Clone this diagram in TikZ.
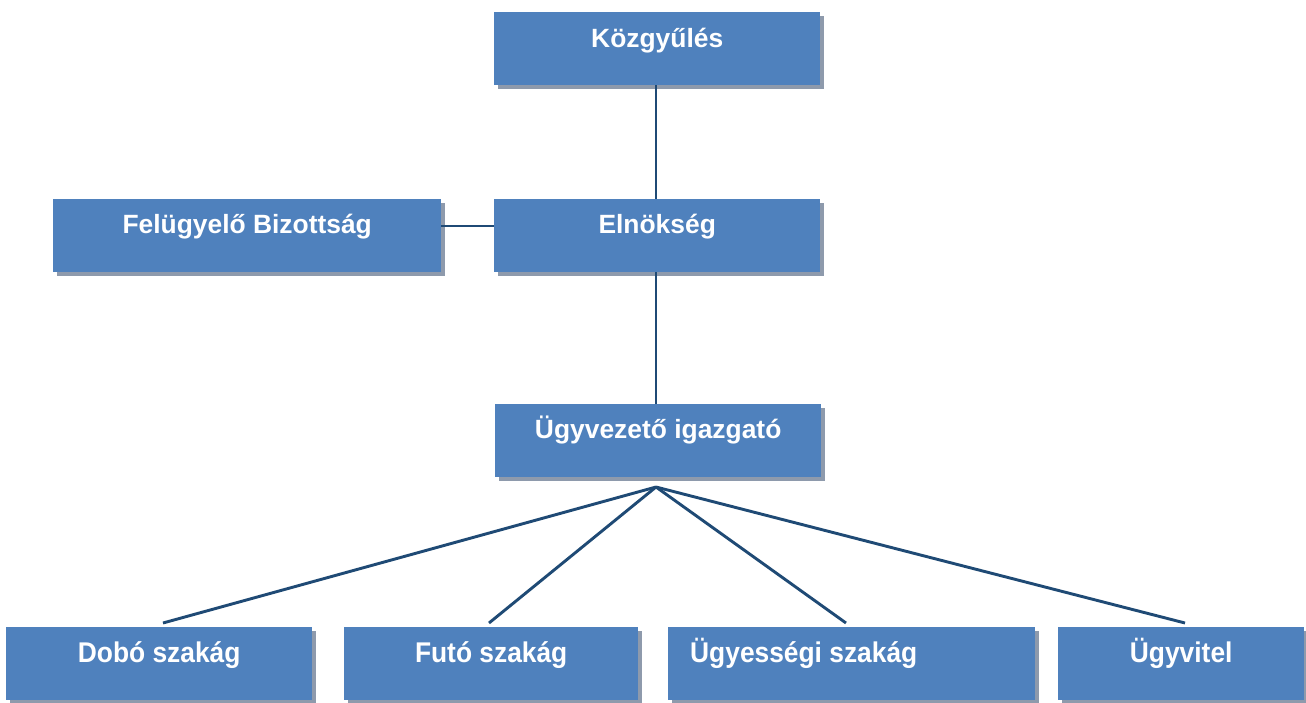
\documentclass[tikz,border=0pt]{standalone}
\usepackage{fontspec}
\setmainfont{Liberation Sans}
\usetikzlibrary{shadows}
\definecolor{boxblue}{HTML}{4F81BD}
\definecolor{shadowgray}{HTML}{8E9AAC}
\definecolor{linkblue}{HTML}{1F4A75}
\begin{document}
\begin{tikzpicture}[x=1pt,y=-1pt,
  orgbox/.style={fill=boxblue, draw=none, inner sep=0pt, anchor=north west,
    minimum height=73pt,
    drop shadow={shadow xshift=4pt, shadow yshift=-4pt, fill=shadowgray, opacity=1}},
  toptext/.style={text=white, font=\fontsize{26.4}{30}\selectfont\bfseries, anchor=base, inner sep=0pt},
  lowtext/.style={text=white, font=\fontsize{28.5}{32}\selectfont\bfseries, anchor=base, inner sep=0pt},
  link/.style={draw=linkblue, line width=2.9pt}]
\useasboundingbox (0,0) rectangle (1306,702);
\fill[white] (0,0) rectangle (1306,702);

% boxes
\node[orgbox, minimum width=326pt] (kozgy) at (494,12) {};
\node[orgbox, minimum width=388pt] (felugy) at (53,199) {};
\node[orgbox, minimum width=326pt] (elnok) at (494,199) {};
\node[orgbox, minimum width=326pt] (ugyvez) at (495,404) {};
\node[orgbox, minimum width=306pt] (dobo) at (6,627) {};
\node[orgbox, minimum width=294pt] (futo) at (344,627) {};
\node[orgbox, minimum width=367pt] (ugyes) at (668,627) {};
\node[orgbox, minimum width=246pt] (ugyvit) at (1058,627) {};

% labels
\node[toptext] (kozgy-t) at ([yshift=-35pt]kozgy.north) {Közgyűlés};
\node[toptext] (felugy-t) at ([yshift=-34pt]felugy.north) {Felügyelő Bizottság};
\node[toptext] (elnok-t) at ([yshift=-34pt]elnok.north) {Elnökség};
\node[toptext] (ugyvez-t) at ([yshift=-34pt]ugyvez.north) {Ügyvezető igazgató};
\node[lowtext] (dobo-t) at ([yshift=-35pt]dobo.north) {\scalebox{0.925}[1]{Dobó szakág}};
\node[lowtext] (futo-t) at ([yshift=-35pt]futo.north) {\scalebox{0.925}[1]{Futó szakág}};
\node[lowtext, anchor=base west] (ugyes-t) at ([xshift=22pt,yshift=-35pt]ugyes.north west) {\scalebox{0.925}[1]{Ügyességi szakág}};
\node[lowtext] (ugyvit-t) at ([yshift=-35pt]ugyvit.north) {\scalebox{0.925}[1]{Ügyvitel}};

% connectors
\coordinate (sideY) at (0,226);
\coordinate (fan) at (656,487);
\coordinate (dobo-in) at (163,623);
\coordinate (futo-in) at (489,623);
\coordinate (ugyes-in) at (846,623);
\coordinate (ugyvit-in) at (1185,623);

\draw[link] (kozgy.south -| fan) -- (elnok.north -| fan);
\draw[link] (felugy.east |- sideY) -- (elnok.west |- sideY);
\draw[link] (elnok.south -| fan) -- (ugyvez.north -| fan);
\draw[link] (fan) -- (dobo-in);
\draw[link] (fan) -- (futo-in);
\draw[link] (fan) -- (ugyes-in);
\draw[link] (fan) -- (ugyvit-in);
\end{tikzpicture}
\end{document}
